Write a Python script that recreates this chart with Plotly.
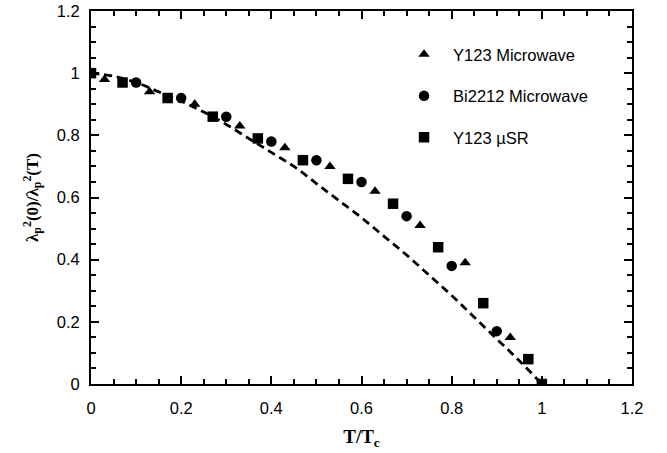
import plotly.graph_objects as go

# Data
y123_mw_x = [0.03, 0.13, 0.23, 0.33, 0.43, 0.53, 0.63, 0.73, 0.83, 0.93]
y123_mw_y = [0.98, 0.94, 0.90, 0.83, 0.76, 0.70, 0.62, 0.51, 0.39, 0.15]

bi2212_x = [0.10, 0.20, 0.30, 0.40, 0.50, 0.60, 0.70, 0.80, 0.90]
bi2212_y = [0.97, 0.92, 0.86, 0.78, 0.72, 0.65, 0.54, 0.38, 0.17]

y123_musr_x = [0.00, 0.07, 0.17, 0.27, 0.37, 0.47, 0.57, 0.67, 0.77, 0.87, 0.97, 1.00]
y123_musr_y = [1.00, 0.97, 0.92, 0.86, 0.79, 0.72, 0.66, 0.58, 0.44, 0.26, 0.08, 0.00]

dash_x = [0.0, 0.05, 0.1, 0.15, 0.2, 0.25, 0.3, 0.35, 0.4, 0.45, 0.5, 0.55, 0.6, 0.65, 0.7, 0.75, 0.8, 0.85, 0.9, 0.95, 1.0]
dash_y = [1.0, 0.99, 0.97, 0.94, 0.91, 0.875, 0.835, 0.79, 0.745, 0.70, 0.645, 0.59, 0.535, 0.475, 0.415, 0.35, 0.285, 0.215, 0.145, 0.075, 0.0]

x_ticks = [0, 0.2, 0.4, 0.6, 0.8, 1, 1.2]
y_ticks = [0, 0.2, 0.4, 0.6, 0.8, 1, 1.2]

SANS = "Liberation Sans, Arial, Helvetica, sans-serif"
SERIF = "Liberation Serif, Times New Roman, serif"

fig = go.Figure()
fig.add_trace(go.Scatter(x=dash_x, y=dash_y, mode="lines", showlegend=False,
                         line=dict(color="black", width=2.8, dash="8px,5px", shape="spline")))
fig.add_trace(go.Scatter(x=y123_mw_x, y=y123_mw_y, mode="markers", name="Y123 Microwave",
                         legendgroup="a",
                         marker=dict(symbol="triangle-up", size=10, color="black")))
fig.add_trace(go.Scatter(x=bi2212_x, y=bi2212_y, mode="markers", name="Bi2212 Microwave",
                         legendgroup="b",
                         marker=dict(symbol="circle", size=10.5, color="black")))
fig.add_trace(go.Scatter(x=y123_musr_x, y=y123_musr_y, mode="markers", name="Y123 µSR",
                         legendgroup="c",
                         marker=dict(symbol="square", size=10.5, color="black")))

axis_common = dict(
    showgrid=False, zeroline=False, showline=True, linecolor="black", linewidth=2,
    mirror="allticks", ticks="inside", ticklen=8, tickwidth=2, tickcolor="black",
    tickfont=dict(family=SANS, size=16.5, color="black"),
    minor=dict(ticks="inside", ticklen=5, tickwidth=1.5, tickcolor="black", dtick=0.05),
    automargin=False, ticklabeloverflow="allow",
)

fig.update_xaxes(range=[0, 1.2], tickvals=x_ticks, ticklabelstandoff=8, **axis_common,
                 title=dict(text="<b>T/T<sub>c</sub></b>", standoff=14,
                            font=dict(family=SERIF, size=19, color="black")))
fig.update_yaxes(range=[0, 1.2], tickvals=y_ticks, ticklabelstandoff=6, **axis_common,
                 title=dict(text="<b>λ<sub>p</sub><sup>2</sup>(0)/λ<sub>p</sub><sup>2</sup>(T)</b>", standoff=14,
                            font=dict(family=SERIF, size=17, color="black")))

fig.update_layout(
    width=667, height=453,
    margin=dict(l=91, r=35, t=11, b=69),
    paper_bgcolor="white", plot_bgcolor="white",
    legend=dict(x=0.562, y=0.93, xanchor="left", yanchor="top", itemwidth=48,
                font=dict(family=SANS, size=16.5, color="black"),
                tracegroupgap=17, bgcolor="rgba(0,0,0,0)"),
)

# remove the default 8px page margin so the figure sits at the window's corner
fig.write_html("out.html", config={"displayModeBar": False},
               post_script="document.body.style.margin='0';")
